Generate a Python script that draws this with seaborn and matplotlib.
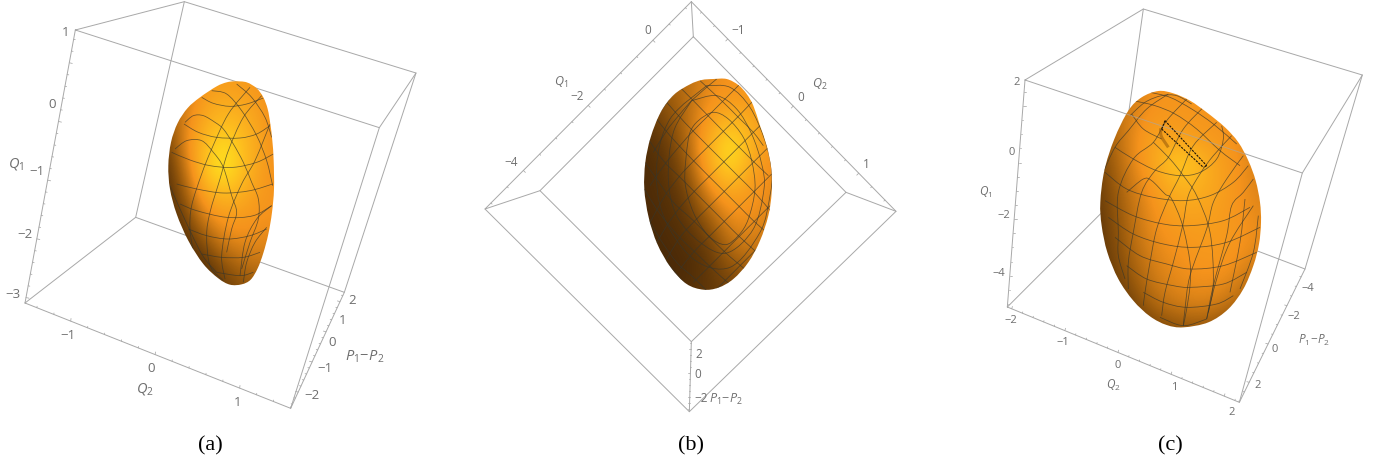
import numpy as np
import matplotlib
matplotlib.use("Agg")
import matplotlib.pyplot as plt
from matplotlib.patches import PathPatch
from matplotlib.path import Path
import seaborn as sns

### Coordinates are read off the picture, one 1380x1392 canvas per panel
### Panel (a)
a_box = [[(226, 93), (553, 8), (1248, 222), (1138, 386), (226, 93)],
         [(75, 912), (407, 655), (1033, 880), (872, 1228), (75, 912)],
         [(226, 93), (75, 912)], [(553, 8), (407, 655)],
         [(1248, 222), (1033, 880)], [(1138, 386), (872, 1228)]]
a_outline = [(705, 247), (740, 250), (770, 268), (790, 295), (803, 330), (811, 375), (817, 425), (821, 485),
             (822, 570), (816, 640), (805, 705), (790, 762), (773, 808), (752, 842), (725, 856), (690, 857),
             (655, 838), (610, 795), (565, 725), (530, 645), (510, 570), (505, 500), (513, 430), (533, 372),
             (563, 327), (600, 295), (650, 262), (680, 250)]
a_cols = [500, 555, 610, 665, 720, 775, 830]
a_rows = [240, 310, 380, 450, 520, 590, 660, 730, 800, 860]
a_shade = [[.40, .40, .50, .55, .55, .50, .50],
           [.30, .38, .58, .65, .62, .55, .45],
           [.20, .45, .65, .78, .72, .60, .45],
           [.12, .45, .75, .95, .80, .60, .48],
           [.08, .35, .78, 1.0, .80, .58, .48],
           [.06, .25, .60, .75, .68, .55, .50],
           [.05, .15, .42, .55, .55, .50, .50],
           [.04, .08, .22, .42, .47, .47, .45],
           [.03, .04, .08, .22, .33, .38, .35],
           [.04, .04, .05, .12, .20, .25, .25]]
a_wires = [[(605, 295), (640, 313), (690, 322), (740, 315), (790, 297)],
           [(552, 375), (595, 400), (650, 415), (720, 417), (770, 405), (810, 380)],
           [(515, 460), (570, 483), (630, 500), (700, 505), (770, 490), (820, 465)],
           [(530, 555), (590, 570), (670, 582), (750, 575), (818, 555)],
           [(540, 615), (590, 635), (680, 655), (760, 650), (815, 620)],
           [(565, 690), (620, 710), (685, 720), (750, 710), (800, 690)],
           [(605, 765), (665, 775), (730, 775), (780, 760)],
           [(650, 820), (720, 830), (760, 820)],
           [(750, 265), (685, 345), (635, 450), (605, 525), (575, 620), (570, 690), (580, 760)],
           [(785, 290), (730, 355), (685, 455), (660, 540), (630, 640), (620, 710), (630, 800), (670, 845)],
           [(810, 375), (765, 485), (725, 555), (685, 655), (665, 770), (675, 840)],
           [(635, 275), (680, 285), (725, 335), (770, 410), (800, 485), (818, 560)],
           [(710, 255), (755, 295), (795, 355), (815, 415)],
           [(555, 370), (580, 350), (610, 350), (645, 370), (670, 390), (700, 435), (730, 490), (755, 550),
            (775, 600), (775, 660), (750, 730), (725, 810)],
           [(525, 450), (560, 425), (605, 425), (640, 460), (670, 505), (695, 590), (710, 640), (695, 690), (680, 760)],
           [(815, 620), (770, 660), (735, 730), (720, 830)],
           [(800, 685), (765, 730), (740, 790), (730, 850)],
           [(510, 560), (540, 630), (605, 765), (650, 820)]]
a_labels = [("1", 197, 97), ("0", 157, 312), ("\u22121", 110, 515), ("\u22122", 75, 705), ("\u22123", 40, 885),
            ("\u22121", 203, 1006), ("0", 453, 1104), ("1", 714, 1207),
            ("2", 1055, 900), ("1", 1028, 960), ("0", 996, 1028), ("\u22121", 975, 1104), ("\u22122", 936, 1187)]
a_axis_names = [("$Q_1$", 47, 492), ("$Q_2$", 435, 1167), ("$P_1\\!-\\!P_2$", 1095, 1070)]
a_ticks = [((75, 912), (226, 93), [.02, .235, .465, .715, .98], 4, (9, 2)),
           ((75, 912), (872, 1228), [.172, .49, .81], 4, (1, -8)),
           ((872, 1228), (1033, 880), [.14, .40, .61, .80, .957], 4, (-8, -2))]

### Panel (b)
b_box = [[(694, 8), (75, 630), (688, 1238), (1308, 637), (694, 8)],
         [(700, 113), (240, 575), (694, 1028), (1158, 580), (700, 113)],
         [(694, 8), (700, 113)], [(75, 630), (240, 575)],
         [(688, 1238), (694, 1028)], [(1308, 637), (1158, 580)]]
b_outline = [(760, 240), (800, 240), (835, 258), (860, 285), (880, 320), (900, 380), (920, 440), (934, 510),
             (935, 580), (925, 650), (900, 725), (865, 790), (820, 840), (775, 866), (730, 872), (680, 855),
             (632, 805), (592, 735), (566, 655), (553, 570), (556, 490), (572, 415), (602, 340), (642, 287),
             (690, 256), (725, 243)]
b_cols = [550, 615, 680, 745, 810, 875, 940]
b_rows = [240, 310, 380, 450, 520, 590, 660, 730, 800, 870]
b_shade = [[.25, .28, .35, .45, .50, .50, .45],
           [.15, .22, .33, .50, .55, .55, .50],
           [.08, .15, .33, .58, .80, .65, .50],
           [.06, .10, .28, .68, 1.0, .68, .48],
           [.05, .08, .20, .60, .88, .58, .45],
           [.05, .07, .13, .42, .60, .52, .45],
           [.04, .06, .09, .25, .48, .48, .42],
           [.03, .05, .07, .13, .36, .42, .35],
           [.03, .04, .05, .10, .22, .30, .25],
           [.04, .05, .07, .10, .15, .18, .15]]
b_wires = [[(720, 245), (790, 310), (835, 355), (880, 400), (910, 440)],
           [(660, 265), (700, 305), (790, 397), (835, 442), (885, 492), (925, 530)],
           [(620, 310), (660, 355), (700, 397), (790, 487), (835, 532), (885, 582), (935, 640)],
           [(590, 360), (630, 410), (700, 485), (790, 575), (835, 620), (880, 665), (920, 700)],
           [(565, 420), (610, 485), (660, 535), (700, 575), (790, 665), (835, 710), (890, 760)],
           [(555, 490), (590, 540), (640, 610), (700, 665), (790, 755), (860, 815)],
           [(553, 570), (590, 630), (640, 695), (700, 755), (780, 830), (815, 860)],
           [(565, 660), (600, 720), (650, 790), (700, 835), (740, 875)],
           [(590, 750), (620, 790), (680, 860)],
           [(680, 250), (640, 285), (600, 340)],
           [(770, 240), (700, 300), (660, 345), (620, 395), (580, 460)],
           [(845, 250), (790, 305), (745, 350), (700, 395), (660, 440), (615, 495), (570, 560)],
           [(880, 305), (835, 352), (790, 397), (745, 442), (700, 487), (660, 530), (615, 590), (565, 680)],
           [(905, 375), (835, 445), (790, 490), (745, 535), (700, 580), (660, 625), (620, 680), (580, 750)],
           [(925, 445), (835, 535), (790, 580), (745, 625), (700, 670), (660, 715), (620, 780)],
           [(935, 525), (835, 625), (790, 670), (745, 715), (700, 760), (660, 810)],
           [(930, 620), (835, 715), (790, 760), (745, 805), (700, 850)],
           [(900, 740), (835, 805), (790, 850), (770, 870)],
           [(680, 455), (690, 400), (715, 365), (760, 340), (805, 360), (850, 415), (875, 485), (885, 570),
            (865, 660), (835, 710), (795, 737), (745, 710), (700, 640), (675, 550), (680, 455)],
           [(695, 305), (770, 290), (830, 330), (875, 405), (905, 495), (912, 570), (880, 690), (800, 762),
            (720, 730), (650, 650), (625, 540), (640, 400), (695, 305)],
           [(740, 260), (810, 265), (870, 325), (915, 425), (935, 515), (930, 590), (900, 700), (810, 805),
            (700, 780), (610, 650), (590, 500), (630, 360), (740, 260)]]
b_labels = [("0", 562, 90), ("\u22122", 352, 290), ("\u22124", 154, 488),
            ("\u22121", 836, 90), ("0", 1023, 293), ("1", 1219, 495),
            ("2", 715, 1062), ("0", 712, 1122), ("\u22122", 723, 1197)]
b_axis_names = [("$Q_1$", 303, 247), ("$Q_2$", 1080, 252), ("$P_1\\!-\\!P_2$", 797, 1197)]
b_ticks = [((75, 630), (694, 8), [.186, .50, .824], 3, (6, 6)),
           ((694, 8), (1308, 637), [.178, .498, .816], 4, (-6, 6)),
           ((688, 1238), (694, 1028), [.205, .552, .838], 3, (-6, 0))]

### Panel (c)
c_box = [[(315, 243), (670, 30), (1327, 228), (1147, 522), (315, 243)],
         [(262, 924), (590, 596), (1155, 810), (958, 1210), (262, 924)],
         [(315, 243), (262, 924)], [(670, 30), (590, 596)],
         [(1327, 228), (1155, 810)], [(1147, 522), (958, 1210)]]
c_outline = [(715, 276), (760, 283), (810, 305), (860, 340), (915, 385), (955, 430), (985, 485), (1007, 545),
             (1020, 610), (1023, 670), (1017, 735), (1000, 800), (970, 870), (925, 930), (865, 970), (790, 985),
             (740, 978), (690, 952), (640, 905), (595, 840), (562, 760), (545, 680), (541, 610), (553, 515),
             (583, 420), (625, 335), (665, 295)]
c_cols = [540, 620, 700, 780, 860, 940, 1020]
c_rows = [275, 345, 415, 485, 555, 625, 695, 765, 835, 905, 985]
c_shade = [[.30, .38, .50, .52, .48, .44, .40],
           [.28, .40, .52, .52, .52, .48, .42],
           [.20, .42, .62, .56, .54, .50, .40],
           [.15, .40, .62, .90, .65, .52, .40],
           [.12, .36, .54, .74, .66, .52, .42],
           [.10, .32, .50, .62, .60, .52, .44],
           [.08, .30, .48, .54, .56, .54, .46],
           [.08, .26, .44, .50, .54, .52, .42],
           [.06, .20, .40, .47, .50, .46, .30],
           [.05, .12, .32, .42, .44, .35, .18],
           [.03, .05, .16, .22, .24, .15, .08]]
c_wires = [[(585, 445), (640, 480), (710, 515), (780, 530), (840, 520), (890, 480), (910, 420), (905, 380)],
           [(555, 520), (620, 570), (700, 595), (790, 605), (870, 590), (940, 550), (985, 500)],
           [(555, 605), (640, 650), (730, 675), (810, 680), (910, 665), (990, 625)],
           [(565, 655), (640, 705), (730, 735), (820, 745), (920, 730), (1020, 685)],
           [(585, 715), (660, 770), (740, 795), (810, 810), (910, 800), (1010, 760)],
           [(620, 800), (680, 840), (760, 860), (810, 865), (910, 855), (980, 820)],
           [(670, 880), (730, 910), (800, 925), (890, 915), (940, 890)],
           [(720, 955), (790, 980), (860, 960)],
           [(640, 305), (705, 320), (765, 345), (830, 390), (900, 455), (960, 500)],
           [(690, 280), (750, 295), (815, 330), (880, 375), (950, 435)],
           [(635, 345), (670, 390), (725, 420)],
           [(630, 350), (675, 310), (725, 290), (770, 290), (815, 315)],
           [(745, 285), (680, 330), (625, 395), (585, 445), (545, 530)],
           [(800, 300), (740, 365), (700, 430), (640, 480), (595, 580), (595, 700), (595, 770), (615, 840)],
           [(850, 325), (790, 390), (745, 475), (705, 515), (665, 580), (640, 700), (625, 790), (625, 870)],
           [(890, 370), (820, 440), (780, 530), (745, 600), (710, 690), (690, 790), (675, 880), (670, 920)],
           [(935, 410), (880, 470), (840, 525), (805, 590), (788, 680), (760, 790), (735, 880), (725, 950)],
           [(970, 470), (920, 540), (880, 610), (860, 690), (810, 830), (795, 930), (790, 980)],
           [(1000, 540), (970, 580), (935, 620), (920, 710), (880, 860), (860, 960)],
           [(620, 580), (670, 540), (695, 545), (735, 585), (755, 600), (788, 680), (810, 790), (810, 860),
            (800, 930), (790, 980)],
           [(700, 430), (750, 480), (790, 530), (830, 590), (870, 700), (880, 850), (865, 940)],
           [(1000, 620), (930, 730), (890, 840), (860, 960)],
           [(975, 600), (960, 730), (930, 880)],
           [(1015, 650), (1000, 760), (960, 870)]]
c_faint_edge = [(610, 342), (980, 467)]
c_dark_wires = [[(735, 365), (795, 430), (860, 500)], [(725, 390), (790, 450), (850, 505)],
                [(735, 365), (725, 390)], [(860, 500), (850, 505)]]
c_smudge = [(722, 388), (724, 412), (745, 445)]
c_labels = [("2", 290, 248), ("0", 275, 457), ("\u22122", 252, 645), ("\u22124", 237, 820),
            ("\u22122", 274, 962), ("\u22121", 430, 1027), ("0", 593, 1095), ("1", 762, 1163), ("2", 935, 1237),
            ("\u22124", 1163, 865), ("\u22122", 1122, 950), ("0", 1065, 1047), ("2", 1012, 1155)]
c_axis_names = [("$Q_1$", 196, 578), ("$Q_2$", 580, 1155), ("$P_1\\!-\\!P_2$", 1182, 1020)]
c_ticks = [((262, 924), (315, 243), [.138, .387, .667, .975], 3, (8, 0)),
           ((262, 924), (958, 1210), [.019, .248, .483, .727, .981], 4, (2, -7)),
           ((958, 1210), (1155, 810), [.15, .4375, .70, .9], 3, (-7, -2))]

captions = ["(a)", "(b)", "(c)"]
caption_x = [632, 692, 752]
caption_y = 1338

### Style
sns.set_theme(style="white")
plt.rcParams["mathtext.fontset"] = "custom"
plt.rcParams["mathtext.rm"] = "Open Sans"
plt.rcParams["mathtext.it"] = "Open Sans:italic"
plt.rcParams["font.family"] = ["Open Sans", "DejaVu Sans"]

mapa = sns.blend_palette(["#3a2006", "#9a5a0c", "#f5931c", "#fdbb1f", "#ffe91e"], as_cmap=True)
cinza = "#a8a8a8"
texto = "#6e6e6e"


def linha(ax, pts, cor, lw, ordem, clip=None, alfa=1.0, ls="-"):
    xs = [p[0] for p in pts]
    ys = [p[1] for p in pts]
    sns.lineplot(x=xs, y=ys, sort=False, estimator=None, ax=ax, color=cor, lw=lw, zorder=ordem, alpha=alfa, ls=ls)
    if clip is not None:
        ax.lines[-1].set_clip_path(clip)


def curva(pts, fechada=False):
    # curva de Bezier passando pelos pontos lidos (Catmull-Rom)
    p = np.array(pts, float)
    n = len(p)
    verts = [p[0]]
    codes = [Path.MOVETO]
    fim = n if fechada else n - 1
    for i in range(fim):
        if fechada:
            p0, p1, p2, p3 = p[(i - 1) % n], p[i], p[(i + 1) % n], p[(i + 2) % n]
        else:
            p0, p1, p2, p3 = p[max(i - 1, 0)], p[i], p[i + 1], p[min(i + 2, n - 1)]
        verts += [p1 + (p2 - p0) / 6, p2 - (p3 - p1) / 6, p2]
        codes += [Path.CURVE4] * 3
    return Path(verts, codes)


def marcas(ax, ini, fim, maiores, n_menores, direcao):
    ini = np.array(ini, float)
    fim = np.array(fim, float)
    passo = (maiores[1] - maiores[0]) / (n_menores + 1)
    f = maiores[0] - passo * int(maiores[0] / passo)
    while f <= 1:
        base = ini + (fim - ini) * f
        k = (f - maiores[0]) / passo
        tam = 1.0 if abs(k - round(k / (n_menores + 1)) * (n_menores + 1)) < 0.01 else 0.55
        linha(ax, [base, base + np.array(direcao) * tam], cinza, 0.55, 1)
        f += passo


def painel(ax, box, contorno, cols, rows, sombra, fios, rotulos, nomes, ticks, fs_tick, fs_nome):
    for pts in box:
        linha(ax, pts, cinza, 0.7, 1)
    for t in ticks:
        marcas(ax, *t)
    forma = PathPatch(curva(contorno, fechada=True), fc="none", ec="none", transform=ax.transData)
    ax.add_patch(forma)
    dx = (cols[-1] - cols[0]) / (len(cols) - 1) / 2
    dy = (rows[-1] - rows[0]) / (len(rows) - 1) / 2
    im = ax.imshow(np.array(sombra), cmap=mapa, vmin=0, vmax=1, interpolation="bicubic", aspect="auto", zorder=2,
                   extent=(cols[0] - dx, cols[-1] + dx, rows[-1] + dy, rows[0] - dy))
    im.set_clip_path(forma)
    for pts in fios:
        fio = PathPatch(curva(pts), fc="none", ec="#37362b", lw=0.55, alpha=0.72, zorder=3)
        ax.add_patch(fio)
        fio.set_clip_path(forma)
    for s, x, y in rotulos:
        ax.text(x, y, s, color=texto, fontsize=fs_tick, ha="center", va="center")
    for s, x, y in nomes:
        ax.text(x, y, s, color=texto, fontsize=fs_nome, ha="center", va="center")
    ax.set_xlim(0, 1380)
    ax.set_ylim(1392, 0)
    ax.axis("off")
    return forma


fig = plt.figure(figsize=(13.8, 4.64), dpi=100)
eixos = [fig.add_axes([i / 3, 0, 1 / 3, 1]) for i in range(3)]

painel(eixos[0], a_box, a_outline, a_cols, a_rows, a_shade, a_wires, a_labels, a_axis_names, a_ticks, 9.5, 10.5)
painel(eixos[1], b_box, b_outline, b_cols, b_rows, b_shade, b_wires, b_labels, b_axis_names, b_ticks, 8.5, 9)
forma_c = painel(eixos[2], c_box, c_outline, c_cols, c_rows, c_shade, c_wires, c_labels, c_axis_names, c_ticks, 8, 8.5)
linha(eixos[2], c_faint_edge, cinza, 0.7, 3, clip=forma_c, alfa=0.6)
eixos[2].add_patch(PathPatch(curva(c_smudge), fc="none", ec="#8a5008", lw=2.2, alpha=0.5, zorder=3))
for pts in c_dark_wires:
    linha(eixos[2], pts, "#1c1408", 0.8, 4, ls=(0, (2, 1)))
eixos[2].set_xlim(0, 1380)
eixos[2].set_ylim(1392, 0)

for ax, s, x in zip(eixos, captions, caption_x):
    ax.text(x, caption_y, s, color="black", fontsize=16, ha="center", va="center", family="Liberation Serif")

fig.savefig("out.png", dpi=100)
